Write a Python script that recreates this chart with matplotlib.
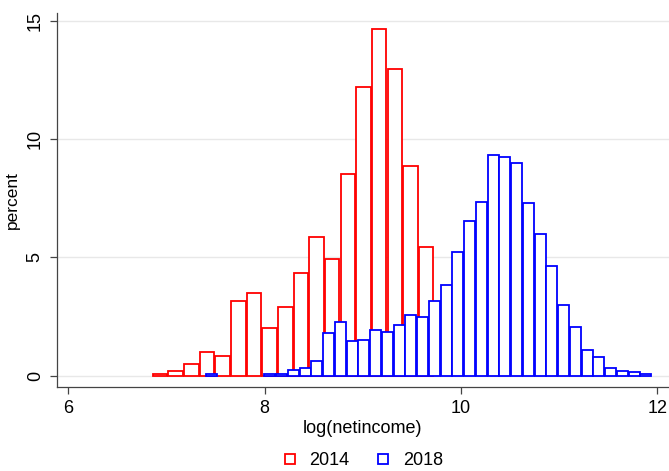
import matplotlib
matplotlib.use("Agg")
import matplotlib.pyplot as plt
from matplotlib.lines import Line2D
import numpy as np

plt.rcParams['font.family'] = ['Liberation Sans', 'DejaVu Sans']

# 2014 histogram: bins start at 6.86, width ~0.1595
red_start = 6.86
red_width = 0.1595
red_pct = [0.08, 0.2, 0.5, 1.0, 0.82, 3.17, 3.5, 2.0, 2.9, 4.35,
           5.87, 4.93, 8.52, 12.21, 14.63, 12.96, 8.84, 5.44]

# 2018 histogram: bins start at 7.40, width ~0.1197
blue_start = 7.40
blue_width = 0.1197
blue_pct = [0.05, 0, 0, 0, 0, 0.05, 0.05, 0.22, 0.32, 0.63,
            1.8, 2.28, 1.48, 1.52, 1.91, 1.85, 2.13, 2.58, 2.48, 3.16,
            3.83, 5.22, 6.54, 7.34, 9.31, 9.22, 8.97, 7.30, 5.97, 4.62,
            2.99, 2.04, 1.09, 0.80, 0.34, 0.20, 0.14, 0.07]

fig = plt.figure(figsize=(6.69, 4.71), dpi=100)
ax = fig.add_axes([0.0852, 0.1783, 0.9148, 0.7941])


def draw(start, width, pct, color):
    edges = start + width * np.arange(len(pct))
    pct = np.asarray(pct, dtype=float)
    keep = pct > 0
    ax.bar(edges[keep], pct[keep], width=width * 0.93, align='edge',
           facecolor='white', edgecolor=color, linewidth=1.3, zorder=2)


draw(red_start, red_width, red_pct, '#ff0000')
draw(blue_start, blue_width, blue_pct, '#0000ff')

ax.set_xlim(5.885, 12.12)
ax.set_ylim(-0.48, 15.32)
ax.set_xticks([6, 8, 10, 12])
ax.set_yticks([0, 5, 10, 15])
for y in [0, 5, 10, 15]:
    ax.axhline(y, color='#e8e8e8', linewidth=1.0, zorder=1)

for s in ['top', 'right']:
    ax.spines[s].set_visible(False)
for s in ['left', 'bottom']:
    ax.spines[s].set_color('#444444')
    ax.spines[s].set_linewidth(0.9)

ax.tick_params(axis='both', direction='out', length=5, width=0.9,
               color='#444444', labelsize=13, pad=4.5)
ax.tick_params(axis='y', labelrotation=90)
for lab in ax.get_yticklabels():
    lab.set_va('center')

ax.set_xlabel('log(netincome)', fontsize=13, labelpad=2)
ax.set_ylabel('percent', fontsize=12.5, labelpad=5)

handles = [
    Line2D([], [], marker='s', linestyle='none', markersize=7.5,
           markerfacecolor='white', markeredgecolor='#ff0000', markeredgewidth=1.3),
    Line2D([], [], marker='s', linestyle='none', markersize=7.5,
           markerfacecolor='white', markeredgecolor='#0000ff', markeredgewidth=1.3),
]
fig.legend(handles, ['2014', '2018'], loc='center', bbox_to_anchor=(0.541, 0.022),
           ncol=2, frameon=False, fontsize=13, handletextpad=0.6,
           columnspacing=1.35, handlelength=1.0)

fig.savefig('out.png', dpi=100)
